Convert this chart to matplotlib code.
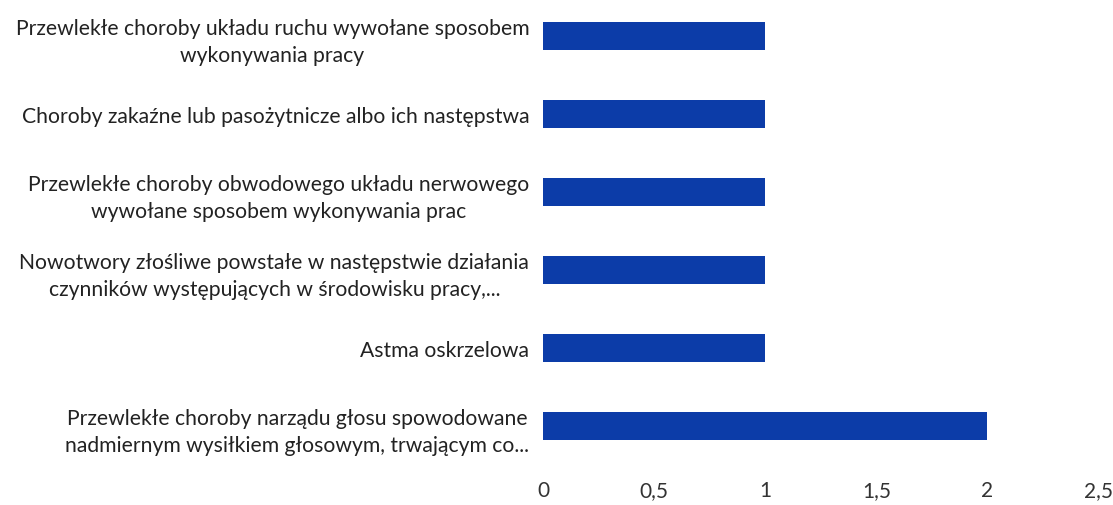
import matplotlib.pyplot as plt

categories = [
    "Przewlekłe choroby narządu głosu spowodowane\nnadmiernym wysiłkiem głosowym, trwającym co...",
    "Astma oskrzelowa",
    "Nowotwory złośliwe powstałe w następstwie działania\nczynników występujących w środowisku pracy,...",
    "Przewlekłe choroby obwodowego układu nerwowego\nwywołane sposobem wykonywania prac",
    "Choroby zakaźne lub pasożytnicze albo ich następstwa",
    "Przewlekłe choroby układu ruchu wywołane sposobem\nwykonywania pracy",
]
values = [2, 1, 1, 1, 1, 1]
xticks = [0, 0.5, 1, 1.5, 2, 2.5]
xtick_labels = ["0", "0,5", "1", "1,5", "2", "2,5"]

plt.rcParams['font.family'] = ['Lato', 'DejaVu Sans']

fig = plt.figure(figsize=(11.13, 5.06), dpi=100)
ax = fig.add_axes([0.488, 0.079, 0.499, 0.921])

ax.barh(range(len(values)), values, height=0.36, color='#0c3ca8')

ax.set_xlim(0, 2.5)
ax.set_ylim(-0.5, 5.47)
ax.set_xticks(xticks)
ax.set_xticklabels(xtick_labels, fontsize=15, color='#333333')
ax.set_yticks(range(len(categories)))
ax.set_yticklabels(categories, fontsize=15.2, color='#222222',
                   multialignment='center', linespacing=1.45)
ax.tick_params(axis='x', length=0, pad=11)
ax.tick_params(axis='y', length=0, pad=10)
for s in ax.spines.values():
    s.set_visible(False)

fig.savefig('out.png', dpi=100)
